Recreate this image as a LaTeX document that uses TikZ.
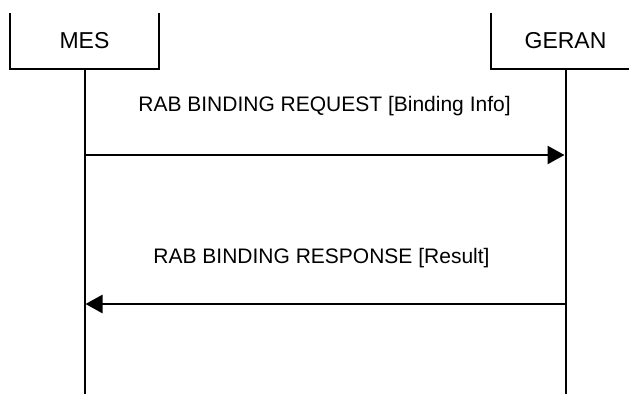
\documentclass[tikz,border=0pt]{standalone}
\usepackage{fontspec}
\setmainfont{Liberation Sans}
\usetikzlibrary{arrows.meta}
\tikzset{
  entity/.style={minimum width=149pt, minimum height=56pt, inner sep=0pt, font=\fontsize{23}{27}\selectfont},
  boxside/.style={line width=2pt},
  lifeline/.style={line width=2pt},
  msg/.style={line width=2.6pt, -{Triangle[length=17pt,width=18pt]}, shorten >=1pt},
  msglabel/.style={anchor=base, inner sep=0pt, font=\fontsize{21}{25}\selectfont}
}
\begin{document}
\begin{tikzpicture}[x=1pt,y=-1pt]
\clip (0,0) rectangle (629,394);
\fill[white] (0,0) rectangle (629,394);
% entities
\node[entity] (mes) at (84.5,41) {};
\node[anchor=base, inner sep=0pt, font=\fontsize{23}{27}\selectfont] (mest) at (84.5,48) {MES};
\node[entity] (geran) at (565.5,41) {};
\node[anchor=base, inner sep=0pt, font=\fontsize{23}{27}\selectfont] (gerant) at (565.5,48) {GERAN};
\draw[boxside] (mes.north west) -- (mes.south west) -- (mes.south east) -- (mes.north east);
\draw[boxside] (geran.north west) -- (geran.south west) -- (geran.south east) -- (geran.north east);
% lifelines
\coordinate (bot) at (0,394);
\draw[lifeline] (mes.south) -- (mes.south |- bot);
\draw[lifeline] (geran.south) -- (geran.south |- bot);
% messages
\coordinate (y1) at (0,155);
\coordinate (y2) at (0,304);
\draw[msg] (mes.south |- y1) -- (geran.south |- y1);
\node[msglabel] (l1) at (324.5,111) {RAB BINDING REQUEST [Binding Info]};
\draw[msg] (geran.south |- y2) -- (mes.south |- y2);
\node[msglabel] (l2) at (321.5,263) {RAB BINDING RESPONSE [Result]};
\end{tikzpicture}
\end{document}
